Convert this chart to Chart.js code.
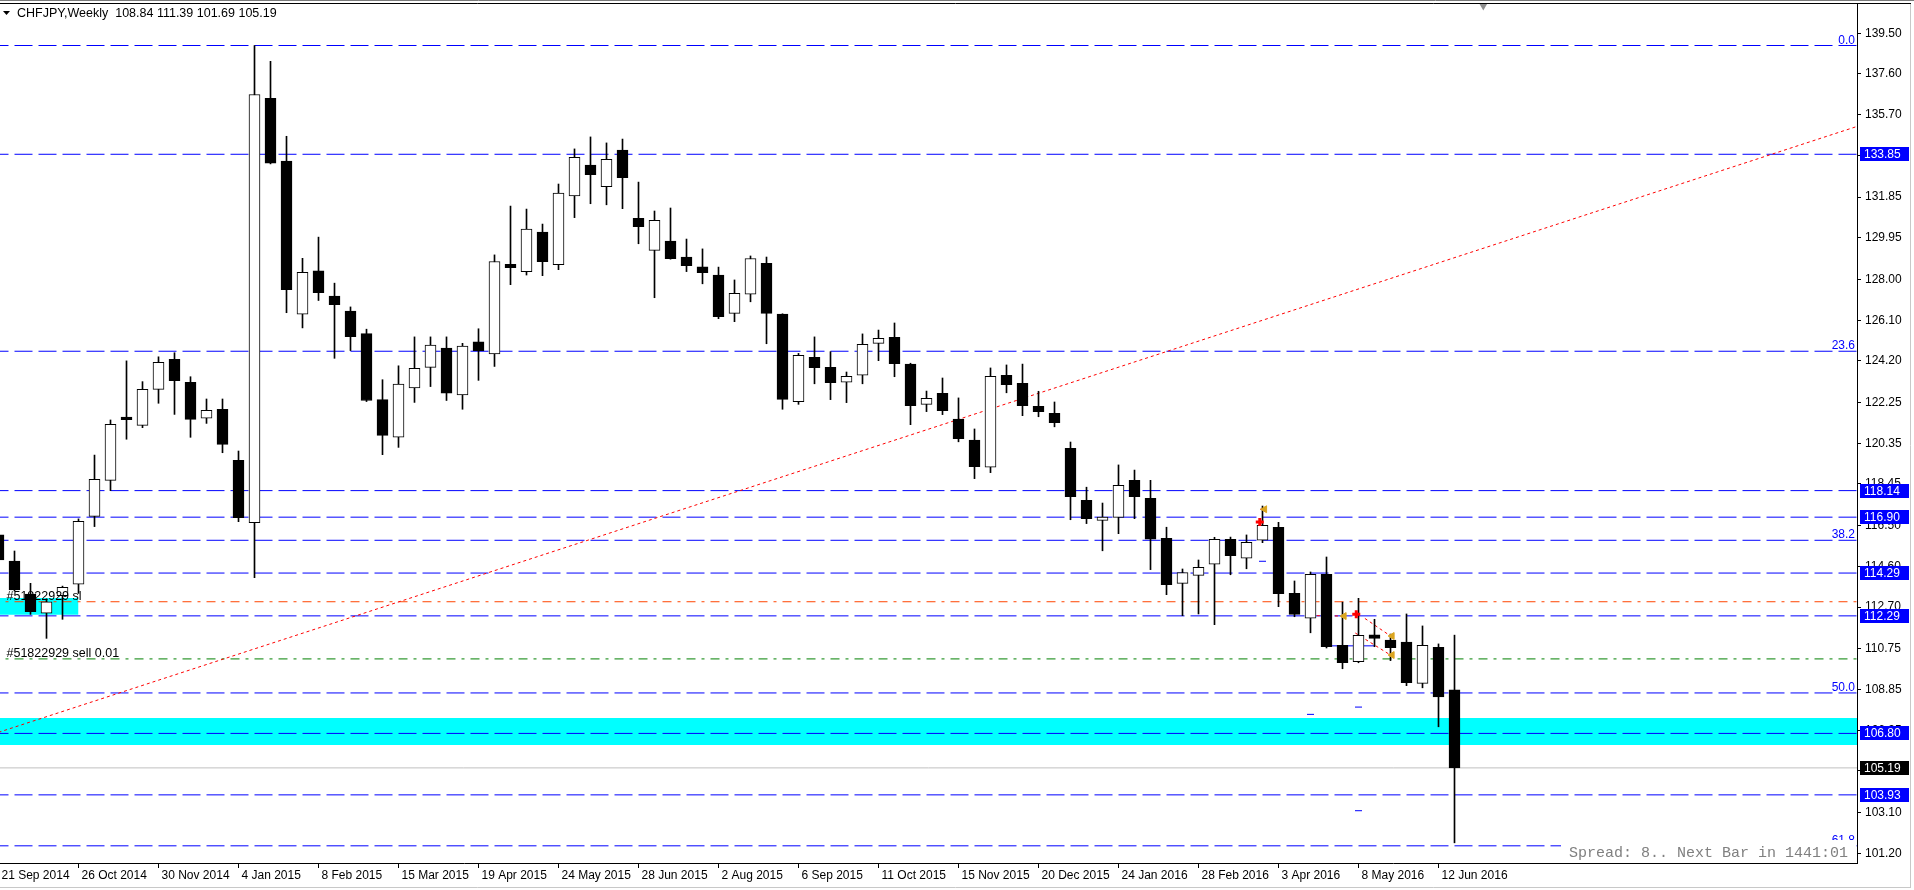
<!DOCTYPE html>
<html>
<head>
<meta charset="utf-8">
<title>CHFJPY,Weekly</title>
<script src="https://cdn.jsdelivr.net/npm/chart.js@4.4.1/dist/chart.umd.min.js"></script>
<style>
  html, body { margin: 0; padding: 0; background: #fff; }
  #wrap { position: relative; width: 1914px; height: 890px; overflow: hidden; }
  #wrap canvas { position: absolute; left: 0; top: 0; }
</style>
</head>
<body>
<div id="wrap"><canvas id="chart" width="1914" height="890"></canvas></div>
<script>
// weekly candles, index 0 = week of 21 Sep 2014
const opens = [
  116.07, 114.85, 113.31, 112.42, 113.23, 113.77, 116.94, 118.62, 121.58, 121.19,
  122.87, 124.27, 123.20, 121.52, 121.94, 119.56, 116.64, 136.46, 133.53, 126.38,
  128.40, 127.23, 126.53, 125.47, 122.39, 120.64, 122.94, 123.90, 124.80, 122.61,
  125.09, 124.52, 128.71, 128.37, 130.22, 128.69, 131.91, 133.35, 132.34, 134.04,
  130.86, 129.36, 129.80, 129.05, 128.59, 128.21, 126.42, 127.31, 128.76, 126.39,
  122.29, 124.37, 123.90, 123.20, 123.53, 125.02, 125.30, 124.05, 122.17, 122.69,
  121.48, 120.50, 119.23, 123.53, 123.15, 122.08, 121.75, 120.11, 117.69, 116.75,
  116.89, 118.62, 117.78, 115.91, 113.81, 114.18, 114.70, 115.87, 114.98, 115.83,
  116.43, 113.34, 112.18, 114.23, 110.91, 110.15, 111.40, 111.16, 111.07, 109.14,
  110.82, 108.84
];
const highs = [
  116.30, 115.32, 113.81, 113.09, 113.68, 116.82, 119.80, 121.44, 124.20, 123.23,
  124.39, 124.58, 123.46, 122.42, 122.42, 119.99, 138.93, 138.19, 134.69, 128.99,
  129.98, 127.83, 126.72, 125.68, 123.32, 123.97, 125.32, 125.32, 125.32, 125.02,
  125.70, 129.15, 131.43, 131.29, 130.59, 132.46, 134.10, 134.66, 134.38, 134.56,
  132.55, 131.20, 131.34, 129.89, 129.43, 128.58, 127.98, 129.10, 129.05, 126.40,
  124.55, 125.32, 124.63, 123.68, 125.46, 125.64, 125.97, 124.09, 122.79, 123.40,
  122.47, 121.02, 123.87, 124.01, 124.05, 122.78, 122.28, 120.41, 118.30, 117.56,
  119.34, 119.10, 118.62, 116.43, 114.48, 114.90, 115.96, 115.97, 116.07, 117.42,
  116.66, 113.92, 114.34, 115.04, 112.93, 113.11, 112.13, 111.44, 112.38, 111.82,
  110.98, 111.39
];
const lows = [
  114.70, 113.45, 112.36, 111.24, 112.13, 113.34, 116.46, 118.14, 120.54, 121.08,
  122.22, 121.70, 120.63, 121.28, 119.91, 116.69, 114.08, 133.40, 126.45, 125.74,
  127.02, 124.32, 124.68, 122.30, 119.82, 120.16, 122.26, 123.00, 122.35, 121.94,
  123.29, 123.94, 127.76, 128.21, 128.18, 128.46, 130.89, 131.54, 131.49, 131.31,
  129.67, 127.15, 128.95, 128.37, 127.80, 126.17, 126.03, 126.96, 125.00, 121.94,
  122.17, 123.13, 122.39, 122.25, 123.13, 124.21, 123.46, 121.22, 121.83, 121.69,
  120.42, 118.70, 118.98, 122.71, 121.64, 121.59, 121.12, 116.78, 116.60, 115.33,
  116.13, 116.83, 114.45, 113.28, 112.30, 112.38, 111.88, 114.21, 114.49, 115.71,
  112.72, 112.25, 111.50, 110.79, 109.82, 110.10, 110.85, 110.20, 109.03, 108.93,
  107.11, 101.69
];
const closes = [
  114.90, 113.50, 112.49, 112.95, 113.62, 116.70, 118.67, 121.24, 121.45, 122.87,
  124.13, 123.27, 121.47, 121.89, 120.30, 116.88, 136.64, 133.44, 127.53, 128.33,
  127.38, 126.83, 125.33, 122.35, 120.72, 123.12, 123.85, 124.94, 122.69, 124.89,
  124.68, 128.84, 128.55, 130.35, 128.83, 132.04, 133.71, 132.90, 133.61, 132.76,
  130.47, 130.77, 128.97, 128.65, 128.32, 126.26, 127.36, 128.98, 126.42, 122.40,
  124.46, 123.88, 123.18, 123.48, 124.97, 125.25, 124.07, 122.11, 122.45, 121.87,
  120.57, 119.26, 123.48, 123.09, 122.11, 121.83, 121.31, 117.86, 116.83, 116.90,
  118.39, 117.86, 115.87, 113.75, 114.31, 114.56, 115.87, 115.10, 115.73, 116.52,
  113.33, 112.36, 114.23, 110.85, 110.10, 111.38, 111.24, 110.80, 109.17, 110.91,
  108.51, 105.19
];

const dateTicks = [0, 5, 10, 15, 20, 25, 30, 35, 40, 45, 50, 55, 60, 65, 70, 75, 80, 85, 90];
const dateLabels = [
  "21 Sep 2014", "26 Oct 2014", "30 Nov 2014", "4 Jan 2015", "8 Feb 2015", "15 Mar 2015",
  "19 Apr 2015", "24 May 2015", "28 Jun 2015", "2 Aug 2015", "6 Sep 2015", "11 Oct 2015",
  "15 Nov 2015", "20 Dec 2015", "24 Jan 2016", "28 Feb 2016", "3 Apr 2016", "8 May 2016",
  "12 Jun 2016"
];
const priceTickLabels = [
  "139.50", "137.60", "135.70", "133.80", "131.85", "129.95", "128.00", "126.10", "124.20",
  "122.25", "120.35", "118.45", "116.50", "114.60", "112.70", "110.75", "108.85", "106.95",
  "105.05", "103.10", "101.20"
];

// chart objects
const blueLevels = [133.85, 118.14, 116.90, 114.29, 112.29, 106.80, 103.93];
const fibLevels = [138.93, 124.65, 115.82, 108.69, 101.55];
const fibLabels = ["0.0", "23.6", "38.2", "50.0", "61.8"];
const slLevel = 112.95;
const entryLevel = 110.28;
const bidPrice = 105.19;
const bigBand = [106.26, 107.52];
const smallBand = [112.34, 113.12];
const smallBandEnd = 5;
const trendLine = [{ x: 0, y: 106.85 }, { x: 116.2, y: 135.16 }];

const tradeLines = [
  [{ x: 78.85, y: 117.27 }, { x: 79.05, y: 117.27 }],
  [{ x: 82.4, y: 112.30 }, { x: 84.05, y: 112.28 }],
  [{ x: 85.4, y: 112.17 }, { x: 87.0, y: 111.35 }],
  [{ x: 84.8, y: 111.49 }, { x: 87.0, y: 110.46 }]
];
const orderLine = [{ x: 83, y: 110.89 }, { x: 86, y: 110.89 }];
const sellArrows = [{ x: 78.83, y: 116.68 }, { x: 84.86, y: 112.37 }];
const closeMarks = [{ x: 79.13, y: 117.27 }, { x: 84.1, y: 112.28 }, { x: 87.1, y: 111.35 }, { x: 87.1, y: 110.46 }];
const pendingMarks = [{ x: 79, y: 114.84 }, { x: 82, y: 107.69 }, { x: 85, y: 108.03 }, { x: 85, y: 103.19 }];
const shiftMark = [{ x: 92.8, y: 140.8 }];

const symbolText = "CHFJPY,Weekly";
const tradeId = "#51822929";
const spreadText = "Spread: 8.. Next Bar in 1441:01";

const X_MIN = 0.09375, X_MAX = 116.15625;
const Y_MIN = 100.7475, Y_MAX = 140.8685;

const BLUE = "#0000ff";
const FONT = "Liberation Sans";

function hLine(price, color, dash, x0, x1) {
  return {
    type: "line",
    data: [{ x: x0 === undefined ? -5 : x0, y: price }, { x: x1 === undefined ? 130 : x1, y: price }],
    borderColor: color,
    borderWidth: 1,
    borderDash: dash,
    pointRadius: 0,
    fill: false,
    order: 50
  };
}

function band(lo, hi, x1) {
  return [
    {
      type: "line",
      data: [{ x: -5, y: hi }, { x: x1, y: hi }],
      borderWidth: 0,
      borderColor: "rgba(0,0,0,0)",
      backgroundColor: "#00ffff",
      pointRadius: 0,
      fill: "+1",
      order: 100
    },
    {
      type: "line",
      data: [{ x: -5, y: lo }, { x: x1, y: lo }],
      borderWidth: 0,
      borderColor: "rgba(0,0,0,0)",
      pointRadius: 0,
      fill: false,
      order: 99
    }
  ];
}

const bodyColors = closes.map((c, i) => c >= opens[i] ? "#ffffff" : "#000000");

const datasets = [
  ...band(bigBand[0], bigBand[1], 130),
  ...band(smallBand[0], smallBand[1], smallBandEnd),
  ...blueLevels.map(p => hLine(p, BLUE, [18, 6])),
  ...fibLevels.map(p => hLine(p, BLUE, [18, 6])),
  hLine(slLevel, "#ff4500", [9, 6, 3, 6]),
  hLine(entryLevel, "#008000", [9, 6, 3, 6]),
  hLine(bidPrice, "#c0c0c0", []),
  {
    type: "line",
    data: trendLine,
    borderColor: "#ff0000",
    borderWidth: 1,
    borderDash: [3, 3],
    pointRadius: 0,
    order: 40
  },
  ...tradeLines.map(seg => ({
    type: "line",
    data: seg,
    borderColor: "#ff0000",
    borderWidth: 1,
    borderDash: [3, 3],
    pointRadius: 0,
    order: 30
  })),
  {
    type: "line",
    data: orderLine,
    borderColor: BLUE,
    borderWidth: 1,
    pointRadius: 0,
    order: 30
  },
  {
    type: "bar",
    data: lows.map((l, i) => ({ x: i, y: [l, highs[i]] })),
    backgroundColor: "#000000",
    borderWidth: 0,
    barThickness: 1,
    grouped: false,
    order: 20
  },
  {
    type: "bar",
    data: opens.map((o, i) => ({ x: i, y: [o, closes[i]] })),
    backgroundColor: bodyColors,
    borderColor: "#000000",
    borderWidth: 1,
    borderSkipped: false,
    barThickness: 11,
    grouped: false,
    order: 10
  },
  {
    type: "line",
    data: sellArrows,
    showLine: false,
    pointStyle: "cross",
    pointRadius: 4,
    pointBorderWidth: 3,
    pointBorderColor: "#ff0000",
    order: 5
  },
  {
    type: "line",
    data: closeMarks,
    showLine: false,
    pointStyle: "triangle",
    rotation: -90,
    pointRadius: 4,
    pointBorderWidth: 1,
    pointBorderColor: "#daa520",
    pointBackgroundColor: "#daa520",
    order: 5
  },
  {
    type: "line",
    data: pendingMarks,
    showLine: false,
    pointStyle: "line",
    pointRadius: 3.5,
    pointBorderWidth: 1,
    pointBorderColor: BLUE,
    order: 5
  },
  {
    type: "line",
    data: shiftMark,
    showLine: false,
    clip: false,
    pointStyle: "triangle",
    rotation: 180,
    pointRadius: 5,
    pointBorderWidth: 0,
    pointBackgroundColor: "#909090",
    pointBorderColor: "#909090",
    order: 1
  }
];

const mtExtras = {
  id: "mtExtras",
  afterDatasetsDraw(chart) {
    const { ctx, chartArea: a, scales: { x, y } } = chart;
    ctx.save();
    // fibo level captions
    ctx.font = "12px '" + FONT + "'";
    ctx.fillStyle = BLUE;
    ctx.textAlign = "right";
    ctx.textBaseline = "alphabetic";
    fibLevels.forEach((p, k) => {
      ctx.fillText(fibLabels[k], a.right - 2, Math.round(y.getPixelForValue(p)) - 2);
    });
    // trade captions
    ctx.font = "12.5px '" + FONT + "'";
    ctx.fillStyle = "#000";
    ctx.textAlign = "left";
    ctx.fillText(tradeId + " sl", x.getPixelForValue(0.5), Math.round(y.getPixelForValue(slLevel)) - 2);
    ctx.fillText(tradeId + " sell 0.01", x.getPixelForValue(0.5), Math.round(y.getPixelForValue(entryLevel)) - 2);
    ctx.restore();
  },
  afterDraw(chart) {
    const { ctx, chartArea: a, scales: { y } } = chart;
    const W = chart.width, H = chart.height;
    ctx.save();
    // window frame
    ctx.strokeStyle = "#000";
    ctx.lineWidth = 1;
    ctx.beginPath();
    ctx.moveTo(0, a.top - 0.5);
    ctx.lineTo(W - 3, a.top - 0.5);
    ctx.stroke();
    ctx.strokeStyle = "#7a7a7a";
    ctx.beginPath();
    ctx.moveTo(0, 0.5);
    ctx.lineTo(W, 0.5);
    ctx.stroke();
    ctx.strokeStyle = "#c8c8c8";
    ctx.beginPath();
    ctx.moveTo(W - 3.5, a.top);
    ctx.lineTo(W - 3.5, H - 3);
    ctx.moveTo(0, H - 2.5);
    ctx.lineTo(W - 3, H - 2.5);
    ctx.stroke();

    // spread / next bar info
    ctx.fillStyle = "#fff";
    ctx.fillRect(a.right - 296, a.bottom - 23, 295, 22);
    ctx.font = "15px 'Liberation Mono'";
    ctx.fillStyle = "#808080";
    ctx.textAlign = "right";
    ctx.textBaseline = "middle";
    ctx.fillText(spreadText, a.right - 9, a.bottom - 10);

    // price labels on the axis
    ctx.font = "12px '" + FONT + "'";
    ctx.textAlign = "left";
    const box = (p, bg, label) => {
      const py = Math.round(y.getPixelForValue(p));
      ctx.fillStyle = bg;
      ctx.fillRect(a.right + 3, py - 7, 49, 14);
      ctx.fillStyle = "#fff";
      ctx.fillText(label, a.right + 7, py + 0.5);
    };
    blueLevels.forEach(p => box(p, BLUE, p.toFixed(2)));
    box(bidPrice, "#000", bidPrice.toFixed(2));

    // header
    const n = closes.length - 1;
    ctx.fillStyle = "#000";
    ctx.beginPath();
    ctx.moveTo(3, 11);
    ctx.lineTo(10, 11);
    ctx.lineTo(6.5, 15);
    ctx.closePath();
    ctx.fill();
    ctx.font = "12.5px '" + FONT + "'";
    ctx.textBaseline = "middle";
    ctx.fillText(symbolText + "  " + [opens[n], highs[n], lows[n], closes[n]].map(v => v.toFixed(2)).join(" "), 17, 14);
    ctx.restore();
  }
};

function noPadding(s) {
  s.paddingLeft = 0;
  s.paddingRight = 0;
  s.paddingTop = 0;
  s.paddingBottom = 0;
}

new Chart(document.getElementById("chart"), {
  type: "bar",
  data: { datasets: datasets },
  options: {
    responsive: false,
    animation: false,
    devicePixelRatio: 1,
    events: [],
    layout: { autoPadding: false, padding: { top: 4, left: 0, right: 0, bottom: 0 } },
    plugins: {
      legend: { display: false },
      tooltip: { enabled: false }
    },
    scales: {
      x: {
        type: "linear",
        position: "bottom",
        min: X_MIN,
        max: X_MAX,
        offset: false,
        afterBuildTicks: s => { s.ticks = dateTicks.map(v => ({ value: v })); },
        afterFit: s => { s.height = 27; noPadding(s); },
        ticks: {
          autoSkip: false,
          maxRotation: 0,
          align: "start",
          labelOffset: 3,
          padding: 0,
          color: "#000",
          font: { family: FONT, size: 12 },
          callback: (v, idx) => dateLabels[idx]
        },
        grid: { offset: false, drawOnChartArea: false, drawTicks: true, tickLength: 5, color: "#000" },
        border: { display: true, color: "#000" }
      },
      y: {
        type: "linear",
        position: "right",
        min: Y_MIN,
        max: Y_MAX,
        afterBuildTicks: s => { s.ticks = priceTickLabels.map(t => ({ value: parseFloat(t) })); },
        afterFit: s => { s.width = 57; noPadding(s); },
        ticks: {
          padding: 4,
          color: "#000",
          font: { family: FONT, size: 12 },
          callback: (v, idx) => priceTickLabels[idx]
        },
        grid: { drawOnChartArea: false, drawTicks: true, tickLength: 4, color: "#000" },
        border: { display: true, color: "#000" }
      }
    }
  },
  plugins: [mtExtras]
});
</script>
</body>
</html>
